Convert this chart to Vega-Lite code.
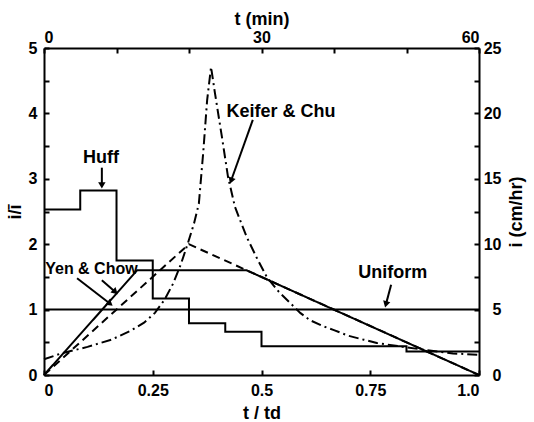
{
  "$schema": "https://vega.github.io/schema/vega-lite/v6.json",
  "width": 435,
  "height": 327,
  "autosize": {"type": "none"},
  "padding": {"left": 44, "top": 48, "right": 55, "bottom": 47},
  "background": "white",
  "config": {
    "view": {"stroke": null},
    "font": "Liberation Sans",
    "axis": {
      "grid": false,
      "domainColor": "black",
      "domainWidth": 2,
      "tickColor": "black",
      "tickWidth": 2,
      "tickSize": -5,
      "labelColor": "black",
      "labelFont": "Liberation Sans",
      "labelFontWeight": "bold",
      "labelFontSize": 16,
      "titleColor": "black",
      "titleFont": "Liberation Sans",
      "titleFontWeight": "bold",
      "titleFontSize": 18
    }
  },
  "datasets": {
    "curves": [
      {"series": "Uniform", "style": "solid", "t": 0, "v": 1},
      {"series": "Uniform", "style": "solid", "t": 1, "v": 1},
      {"series": "Trapezoid", "style": "solid", "t": 0, "v": 0},
      {"series": "Trapezoid", "style": "solid", "t": 0.214, "v": 1.6},
      {"series": "Trapezoid", "style": "solid", "t": 0.466, "v": 1.6},
      {"series": "Trapezoid", "style": "solid", "t": 1, "v": 0},
      {"series": "Yen & Chow", "style": "dashed", "t": 0, "v": 0},
      {"series": "Yen & Chow", "style": "dashed", "t": 0.333, "v": 2.0},
      {"series": "Yen & Chow", "style": "dashed", "t": 1, "v": 0},
      {"series": "Keifer & Chu", "style": "dashdot", "t": 0, "v": 0.24},
      {"series": "Keifer & Chu", "style": "dashdot", "t": 0.04, "v": 0.33},
      {"series": "Keifer & Chu", "style": "dashdot", "t": 0.1, "v": 0.43},
      {"series": "Keifer & Chu", "style": "dashdot", "t": 0.155, "v": 0.54},
      {"series": "Keifer & Chu", "style": "dashdot", "t": 0.2, "v": 0.68},
      {"series": "Keifer & Chu", "style": "dashdot", "t": 0.23, "v": 0.8},
      {"series": "Keifer & Chu", "style": "dashdot", "t": 0.255, "v": 0.95},
      {"series": "Keifer & Chu", "style": "dashdot", "t": 0.277, "v": 1.15},
      {"series": "Keifer & Chu", "style": "dashdot", "t": 0.297, "v": 1.4},
      {"series": "Keifer & Chu", "style": "dashdot", "t": 0.315, "v": 1.7},
      {"series": "Keifer & Chu", "style": "dashdot", "t": 0.331, "v": 2.02},
      {"series": "Keifer & Chu", "style": "dashdot", "t": 0.345, "v": 2.32},
      {"series": "Keifer & Chu", "style": "dashdot", "t": 0.356, "v": 2.62},
      {"series": "Keifer & Chu", "style": "dashdot", "t": 0.366, "v": 3.4},
      {"series": "Keifer & Chu", "style": "dashdot", "t": 0.375, "v": 4.2},
      {"series": "Keifer & Chu", "style": "dashdot", "t": 0.384, "v": 4.71},
      {"series": "Keifer & Chu", "style": "dashdot", "t": 0.393, "v": 4.31},
      {"series": "Keifer & Chu", "style": "dashdot", "t": 0.409, "v": 3.64},
      {"series": "Keifer & Chu", "style": "dashdot", "t": 0.423, "v": 3.03},
      {"series": "Keifer & Chu", "style": "dashdot", "t": 0.439, "v": 2.57},
      {"series": "Keifer & Chu", "style": "dashdot", "t": 0.466, "v": 2.11},
      {"series": "Keifer & Chu", "style": "dashdot", "t": 0.49, "v": 1.78},
      {"series": "Keifer & Chu", "style": "dashdot", "t": 0.512, "v": 1.5},
      {"series": "Keifer & Chu", "style": "dashdot", "t": 0.54, "v": 1.27},
      {"series": "Keifer & Chu", "style": "dashdot", "t": 0.566, "v": 1.1},
      {"series": "Keifer & Chu", "style": "dashdot", "t": 0.589, "v": 0.95},
      {"series": "Keifer & Chu", "style": "dashdot", "t": 0.611, "v": 0.84},
      {"series": "Keifer & Chu", "style": "dashdot", "t": 0.64, "v": 0.75},
      {"series": "Keifer & Chu", "style": "dashdot", "t": 0.665, "v": 0.69},
      {"series": "Keifer & Chu", "style": "dashdot", "t": 0.7, "v": 0.6},
      {"series": "Keifer & Chu", "style": "dashdot", "t": 0.735, "v": 0.54},
      {"series": "Keifer & Chu", "style": "dashdot", "t": 0.765, "v": 0.49},
      {"series": "Keifer & Chu", "style": "dashdot", "t": 0.825, "v": 0.43},
      {"series": "Keifer & Chu", "style": "dashdot", "t": 0.88, "v": 0.38},
      {"series": "Keifer & Chu", "style": "dashdot", "t": 0.94, "v": 0.33},
      {"series": "Keifer & Chu", "style": "dashdot", "t": 1.0, "v": 0.31}
    ],
    "huff": [
      {"t": 0, "v": 2.53},
      {"t": 0.0833, "v": 2.82},
      {"t": 0.1667, "v": 1.75},
      {"t": 0.25, "v": 1.17},
      {"t": 0.3333, "v": 0.79},
      {"t": 0.4167, "v": 0.66},
      {"t": 0.5, "v": 0.44},
      {"t": 0.8333, "v": 0.36},
      {"t": 1.0, "v": 0.36}
    ],
    "notes": [
      {"label": "Huff", "t": 0.131, "v": 3.32},
      {"label": "Keifer & Chu", "t": 0.545, "v": 4.02},
      {"label": "Uniform", "t": 0.802, "v": 1.56}
    ],
    "notes_small": [
      {"label": "Yen & Chow", "t": 0.109, "v": 1.62}
    ],
    "arrows": [
      {"target": "Huff", "t": 0.133, "v": 3.17, "t2": 0.133, "v2": 2.9, "angle": 180},
      {"target": "Keifer & Chu", "t": 0.48, "v": 3.9, "t2": 0.43, "v2": 2.97, "angle": 200},
      {"target": "Uniform", "t": 0.798, "v": 1.38, "t2": 0.786, "v2": 1.08, "angle": 195},
      {"target": "Yen & Chow solid", "t": 0.076, "v": 1.48, "t2": 0.152, "v2": 1.09, "angle": 128},
      {"target": "Yen & Chow dashed", "t": 0.133, "v": 1.45, "t2": 0.164, "v2": 1.27, "angle": 133}
    ],
    "axes2": [
      {"min": 0, "cm": 0},
      {"min": 60, "cm": 25}
    ]
  },
  "layer": [
    {
      "encoding": {
        "x": {
          "field": "t",
          "type": "quantitative",
          "scale": {"domain": [0, 1], "nice": false, "zero": false},
          "axis": {
            "orient": "bottom",
            "title": "t / td",
            "values": [0, 0.25, 0.5, 0.75, 1],
            "labelExpr": "datum.value == 1 ? '1.0' : format(datum.value, '~g')",
            "labelFlush": true,
            "labelPadding": 12,
            "titlePadding": 6
          }
        },
        "y": {
          "field": "v",
          "type": "quantitative",
          "scale": {"domain": [0, 5], "nice": false},
          "axis": {
            "orient": "left",
            "title": "i/ī",
            "values": [0, 0.5, 1, 1.5, 2, 2.5, 3, 3.5, 4, 4.5, 5],
            "labelExpr": "datum.value % 1 == 0 ? format(datum.value, 'd') : ''",
            "labelPadding": 12,
            "titlePadding": 4
          }
        }
      },
      "layer": [
        {
          "data": {"name": "curves"},
          "mark": {"type": "line", "color": "black", "strokeWidth": 2},
          "encoding": {
            "detail": {"field": "series", "type": "nominal"},
            "strokeDash": {
              "field": "style",
              "type": "nominal",
              "scale": {"domain": ["solid", "dashed", "dashdot"], "range": [[1, 0], [8, 5], [10, 4, 2, 4]]},
              "legend": null
            }
          }
        },
        {
          "data": {"name": "huff"},
          "mark": {"type": "line", "color": "black", "strokeWidth": 2, "interpolate": "step-after"},
          "encoding": {}
        },
        {
          "data": {"name": "arrows"},
          "mark": {"type": "rule", "color": "black", "strokeWidth": 2},
          "encoding": {
            "x2": {"field": "t2"},
            "y2": {"field": "v2"}
          }
        },
        {
          "data": {"name": "arrows"},
          "mark": {"type": "point", "shape": "triangle-up", "filled": true, "color": "black", "opacity": 1, "size": 55},
          "encoding": {
            "x": {"field": "t2", "type": "quantitative"},
            "y": {"field": "v2", "type": "quantitative"},
            "angle": {"field": "angle", "type": "quantitative", "scale": null}
          }
        },
        {
          "data": {"name": "notes"},
          "mark": {"type": "text", "color": "black", "font": "Liberation Sans", "fontWeight": "bold", "fontSize": 18, "align": "center", "baseline": "middle"},
          "encoding": {"text": {"field": "label"}}
        },
        {
          "data": {"name": "notes_small"},
          "mark": {"type": "text", "color": "black", "font": "Liberation Sans", "fontWeight": "bold", "fontSize": 16, "align": "center", "baseline": "middle"},
          "encoding": {"text": {"field": "label"}}
        }
      ]
    },
    {
      "data": {"name": "axes2"},
      "mark": {"type": "point", "opacity": 0},
      "encoding": {
        "x": {
          "field": "min",
          "type": "quantitative",
          "scale": {"domain": [0, 60], "nice": false},
          "axis": {
            "orient": "top",
            "title": "t (min)",
            "values": [0, 10, 20, 30, 40, 50, 60],
            "labelExpr": "datum.value % 30 == 0 ? format(datum.value, 'd') : ''",
            "labelFlush": true,
            "labelPadding": 8,
            "titlePadding": 1
          }
        },
        "y": {
          "field": "cm",
          "type": "quantitative",
          "scale": {"domain": [0, 25], "nice": false},
          "axis": {
            "orient": "right",
            "title": "i (cm/hr)",
            "titleAngle": 270,
            "values": [0, 2.5, 5, 7.5, 10, 12.5, 15, 17.5, 20, 22.5, 25],
            "labelExpr": "datum.value % 5 == 0 ? format(datum.value, 'd') : ''",
            "labelAlign": "right",
            "labelPadding": 27,
            "titlePadding": 24
          }
        }
      }
    }
  ],
  "resolve": {
    "scale": {"x": "independent", "y": "independent"},
    "axis": {"x": "independent", "y": "independent"}
  }
}
